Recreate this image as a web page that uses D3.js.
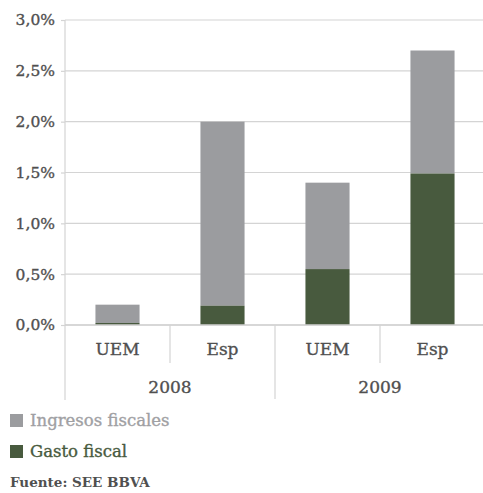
<!DOCTYPE html>
<html>
<head>
<meta charset="utf-8">
<script src="https://cdn.jsdelivr.net/npm/d3@7"></script>
<style>
  html, body { margin: 0; padding: 0; background: #fff; }
  svg { display: block; }
  text { font-family: "DejaVu Serif", serif; }
  .heavy { stroke-width: 0.35px; }
</style>
</head>
<body>
<svg id="chart" width="483" height="493"></svg>
<script>
// Fiscal stimulus, % of GDP
const years = ["2008", "2009"];
const regions = ["UEM", "Esp"];
const categories = ["2008|UEM", "2008|Esp", "2009|UEM", "2009|Esp"];
const gastoFiscal = [0.02, 0.19, 0.55, 1.49];
const ingresosFiscales = [0.18, 1.81, 0.85, 1.21];
const yTicks = [0, 0.5, 1.0, 1.5, 2.0, 2.5, 3.0];
const seriesNames = ["Ingresos fiscales", "Gasto fiscal"];
const seriesColors = ["#9b9c9f", "#485a3e"];
const source = "Fuente: SEE BBVA";

const svg = d3.select("#chart");
const plotLeft = 65, plotRight = 485, plotTop = 20, plotBottom = 325;
const textColor = "#505050";

const x = d3.scaleBand().domain(categories).range([plotLeft, plotRight]).paddingInner(0.58).paddingOuter(0.29);
const y = d3.scaleLinear().domain([0, 3]).range([plotBottom, plotTop]);

const fmt = v => d3.format(".1f")(v).replace(".", ",") + "%";

// gridlines
svg.append("g").selectAll("line").data(yTicks).join("line")
  .attr("x1", plotLeft).attr("x2", plotRight)
  .attr("y1", d => y(d)).attr("y2", d => y(d))
  .attr("stroke", "#d4d4d4").attr("stroke-width", 1.2);

// y axis
const yAxis = svg.append("g").attr("transform", `translate(${plotLeft},0)`)
  .call(d3.axisLeft(y).tickValues(yTicks).tickFormat(fmt).tickSize(4).tickPadding(6));
yAxis.select(".domain").remove();
yAxis.selectAll(".tick line").attr("stroke", "#d4d4d4").attr("stroke-width", 1.2);
yAxis.selectAll(".tick text").attr("fill", textColor).attr("stroke", textColor)
  .attr("class", "heavy").attr("font-size", 15.5)
  .attr("font-family", "DejaVu Serif, serif");

// left axis line, extends down through the category rows
svg.append("line").attr("x1", plotLeft).attr("x2", plotLeft).attr("y1", plotTop).attr("y2", 400)
  .attr("stroke", "#d4d4d4").attr("stroke-width", 1.2);

// stacked bars
const stacked = categories.map((c, i) => ({ c, g: gastoFiscal[i], ing: ingresosFiscales[i] }));
const bars = svg.append("g");
bars.selectAll("rect.ing").data(stacked).join("rect").attr("class", "ing")
  .attr("x", d => x(d.c)).attr("width", x.bandwidth())
  .attr("y", d => y(d.g + d.ing)).attr("height", d => y(d.g) - y(d.g + d.ing))
  .attr("fill", seriesColors[0]);
bars.selectAll("rect.gasto").data(stacked).join("rect").attr("class", "gasto")
  .attr("x", d => x(d.c)).attr("width", x.bandwidth())
  .attr("y", d => y(d.g)).attr("height", d => y(0) - y(d.g))
  .attr("fill", seriesColors[1]);

// zero line over bars
svg.append("line").attr("x1", plotLeft).attr("x2", plotRight).attr("y1", y(0)).attr("y2", y(0))
  .attr("stroke", "#d0d0d0").attr("stroke-width", 1.6);

// category labels
const step = x.step();
svg.append("g").selectAll("text").data(categories).join("text")
  .attr("x", d => x(d) + x.bandwidth() / 2).attr("y", 355)
  .attr("text-anchor", "middle").attr("fill", textColor).attr("stroke", textColor)
  .attr("class", "heavy").attr("font-size", 17)
  .text(d => d.split("|")[1]);

// separators between regions and years
years.forEach((yr, yi) => {
  const first = categories.indexOf(yr + "|" + regions[0]);
  const bandStart = x(categories[first]) - x.paddingOuter() * step;
  const mid = bandStart + step;
  svg.append("line").attr("x1", mid).attr("x2", mid).attr("y1", y(0)).attr("y2", 363)
    .attr("stroke", "#d4d4d4").attr("stroke-width", 1.2);
  if (yi > 0) {
    svg.append("line").attr("x1", bandStart).attr("x2", bandStart).attr("y1", y(0)).attr("y2", 399)
      .attr("stroke", "#d4d4d4").attr("stroke-width", 1.2);
  }
  svg.append("text").attr("x", mid).attr("y", 393)
    .attr("text-anchor", "middle").attr("fill", textColor).attr("stroke", textColor)
    .attr("class", "heavy").attr("font-size", 17)
    .text(yr);
});

// legend
const legend = svg.append("g");
seriesNames.forEach((n, i) => {
  const ly = 420 + i * 31;
  const c = i === 0 ? "#a0a0a3" : seriesColors[1];
  legend.append("rect").attr("x", 10).attr("y", ly - 6).attr("width", 13).attr("height", 13)
    .attr("fill", seriesColors[i]);
  legend.append("text").attr("x", 30).attr("y", ly + 6).attr("font-size", 16.5)
    .attr("fill", c).attr("stroke", c).attr("class", "heavy").text(n);
});

svg.append("text").attr("x", 10).attr("y", 487).attr("font-size", 13.5)
  .attr("fill", textColor).attr("font-weight", "bold").text(source);
</script>
</body>
</html>
